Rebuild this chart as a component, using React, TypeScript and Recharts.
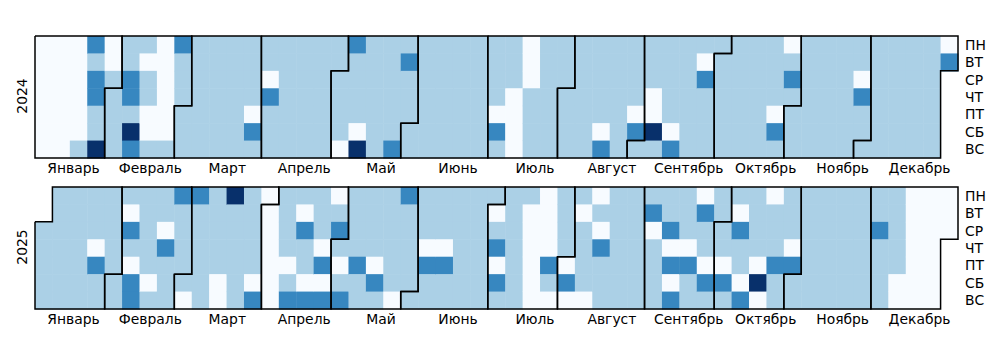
import React from 'react';
import { ScatterChart, Scatter, XAxis, YAxis } from 'recharts';

const MONTHS = ['Январь', 'Февраль', 'Март', 'Апрель', 'Май', 'Июнь', 'Июль', 'Август', 'Сентябрь', 'Октябрь', 'Ноябрь', 'Декабрь'];
const WEEKDAYS = ['ПН', 'ВТ', 'СР', 'ЧТ', 'ПТ', 'СБ', 'ВС'];

// one string per week column, Mon..Sun; '.' = day outside the year
// 0 = none, 1 = low, 2 = mid, 3 = high
const WEEKS_2024 = [
  '0000000', '0000000', '0000001', '2122113', '0011111', '1122132', '1011001', '0000001',
  '2111111', '1111111', '1111111', '1111111', '1111021', '1102111', '1111111', '1111111',
  '1111111', '1111110', '2111103', '1111111', '1111112', '1211111', '1111111', '1111111',
  '1111111', '1111111', '1111021', '1110000', '0001111', '1111111', '1111111', '1111111',
  '1111102', '1111111', '1111021', '1110031', '1111102', '1111111', '1021111', '1111111',
  '1111111', '1111111', '1111021', '0121111', '1111111', '1111111', '1111111', '1102111',
  '1111111', '1111111', '1111111', '1111111', '02',
];

const WEEKS_2025 = [
  '..11111', '1111111', '1111111', '1110211', '1111111', '1021022', '1111101', '1102111',
  '2111110', '2111111', '1111100', '3111111', '1111102', '0000000', '1111012', '1021102',
  '1110202', '0121012', '1111211', '1111021', '1111110', '2111111', '1110211', '1110211',
  '1111111', '1111111', '1012021', '1111111', '1000000', '0000210', '1111020', '1011110',
  '0102111', '1111111', '1111111', '1201111', '1120202', '1110211', '0211021', '1111021',
  '1021102', '1111030', '0111211', '1110211', '1111111', '1111111', '1111111', '1111111',
  '1121111', '1111100', '0000000', '0000000', '000',
];

const COLORS = ['#f7fbff', '#abd0e6', '#3787c0', '#08306b'];

const W = 1000;
const LEFT = 35;
const RIGHT_AXIS = 42;
const N_WEEKS = 53;
const CELL_W = (W - LEFT - RIGHT_AXIS) / N_WEEKS;
const CELL_H = 122 / 7;
const FONT = '"DejaVu Sans", sans-serif';

// month labels sit at evenly spaced positions along the weeks
const MONTH_TICKS = MONTHS.map((_, m) => ((m + 0.5) * N_WEEKS) / 12);

const buildCells = (weeks: string[]) =>
  weeks
    .flatMap((s, c) => s.split('').map((ch, r) => ({ x: c + 0.5, y: r + 0.5, v: ch })))
    .filter((d) => d.v !== '.')
    .map((d) => ({ ...d, v: Number(d.v) }));

const dayPos = (year: number, month: number, day: number) => {
  const offset = (new Date(year, 0, 1).getDay() + 6) % 7;
  const doy = Math.round((Date.UTC(year, month, day) - Date.UTC(year, 0, 1)) / 86400000);
  return { c: Math.floor((doy + offset) / 7), r: (doy + offset) % 7 };
};

// outline of each month's block of cells
const monthOutlines = (year: number) =>
  MONTHS.map((_, m) => {
    const last = new Date(year, m + 1, 0).getDate();
    const a = dayPos(year, m, 1);
    const b = dayPos(year, m, last);
    return [
      [a.c, a.r], [a.c + 1, a.r], [a.c + 1, 0], [b.c + 1, 0],
      [b.c + 1, b.r + 1], [b.c, b.r + 1], [b.c, 7], [a.c, 7], [a.c, a.r],
    ].map(([x, y]) => ({ x, y }));
  });

const Cell = (props: any) => {
  const { cx, cy, payload } = props;
  return (
    <rect
      x={cx - CELL_W / 2}
      y={cy - CELL_H / 2}
      width={CELL_W + 0.5}
      height={CELL_H + 0.5}
      fill={COLORS[payload.v]}
      stroke="none"
    />
  );
};

const NoDot = () => <g />;

const tickStyle = { fill: '#000', fontSize: 13.9, fontFamily: FONT };

const YearPanel = ({ year, weeks, height, marginTop }: { year: number; weeks: string[]; height: number; marginTop: number }) => {
  const cells = buildCells(weeks);
  const outlines = monthOutlines(year);
  const xAxisH = height - marginTop - 122;
  return (
    <ScatterChart width={W} height={height} margin={{ top: marginTop, left: LEFT, right: 0, bottom: 0 }}>
      <XAxis
        type="number"
        dataKey="x"
        domain={[0, N_WEEKS]}
        ticks={MONTH_TICKS}
        tickFormatter={(_v: number, i: number) => MONTHS[i]}
        interval={0}
        axisLine={false}
        tickLine={false}
        tickSize={0}
        tickMargin={5}
        height={xAxisH}
        tick={tickStyle}
      />
      <YAxis
        type="number"
        dataKey="y"
        orientation="right"
        reversed
        domain={[0, 7]}
        ticks={[0.5, 1.5, 2.5, 3.5, 4.5, 5.5, 6.5]}
        tickFormatter={(_v: number, i: number) => WEEKDAYS[i]}
        interval={0}
        axisLine={false}
        tickLine={false}
        tickSize={0}
        tickMargin={7}
        width={RIGHT_AXIS}
        tick={tickStyle}
      />
      <Scatter data={cells} shape={Cell} isAnimationActive={false} />
      {outlines.map((pts, mi) => (
        <Scatter
          key={mi}
          data={pts}
          shape={NoDot}
          line={{ stroke: '#000', strokeWidth: 1.5 }}
          lineType="joint"
          isAnimationActive={false}
        />
      ))}
    </ScatterChart>
  );
};

const YearLabel = ({ text, top }: { text: string; top: number }) => (
  <div
    style={{
      position: 'absolute',
      left: 23,
      top,
      transform: 'translate(-50%, -50%) rotate(-90deg)',
      fontFamily: FONT,
      fontSize: 13.9,
      lineHeight: 1,
      color: '#000',
    }}
  >
    {text}
  </div>
);

export default function App() {
  return (
    <div style={{ position: 'absolute', left: 0, top: 0, width: 1000, height: 340, background: '#fff', fontFamily: FONT }}>
      <div style={{ position: 'absolute', left: 0, top: 0 }}>
        <YearPanel year={2024} weeks={WEEKS_2024} height={180} marginTop={36} />
      </div>
      <div style={{ position: 'absolute', left: 0, top: 170 }}>
        <YearPanel year={2025} weeks={WEEKS_2025} height={170} marginTop={17} />
      </div>
      <YearLabel text="2024" top={96} />
      <YearLabel text="2025" top={247} />
    </div>
  );
}
